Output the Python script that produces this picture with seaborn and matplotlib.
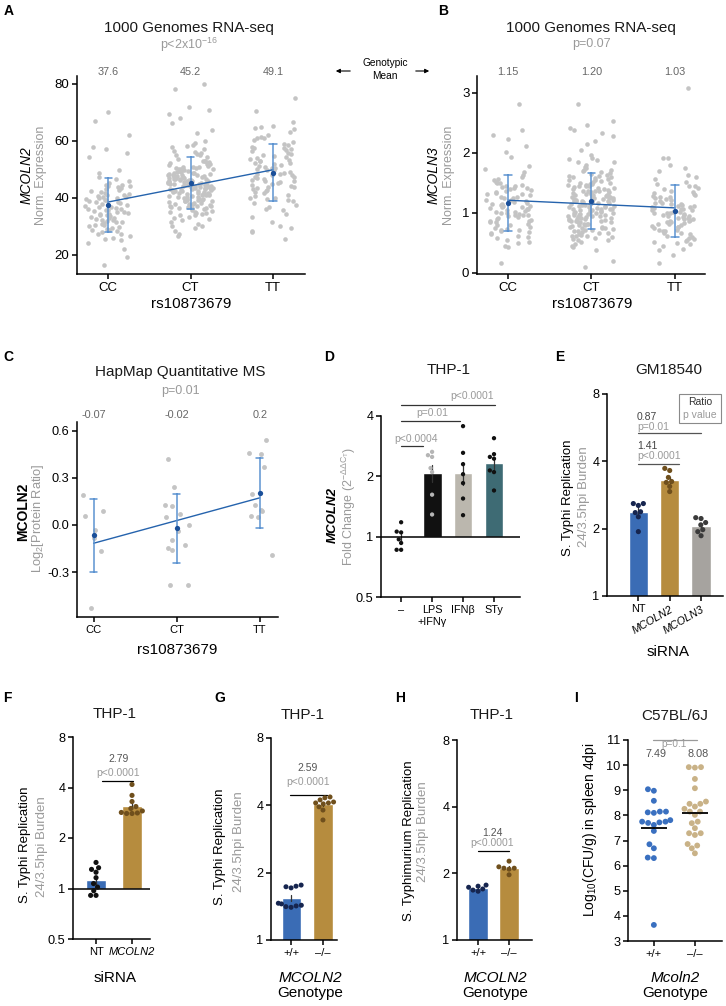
import matplotlib.pyplot as plt
import numpy as np
import pandas as pd
import seaborn as sns
from matplotlib.patches import FancyArrowPatch, Rectangle
from matplotlib.ticker import NullLocator

# ---------------------------------------------------------------- data
GENOTYPES = ["CC", "CT", "TT"]

# A: MCOLN2 norm. expression (1000 Genomes RNA-seq)
A_CC = [54.4, 36.2, 41.7, 29.8, 44.1, 33.5, 70.2, 38.9, 27.4, 44.3, 35.1, 31.6, 40.2, 24.3, 48.6,
        37.4, 30.5, 43.2, 34.8, 39.6, 26.1, 45.8, 32.7, 36.9, 19.1, 42.4, 28.6, 38.1, 46.5, 33.9,
        67.0, 35.7, 30.9, 41.1, 37.8, 22.2, 43.6, 34.2, 29.3, 40.7, 57.1, 32.1, 36.5, 27.9, 44.7,
        38.4, 31.2, 55.9, 35.4, 42.9, 25.6, 39.1, 33.1, 45.4, 16.5, 37.0, 30.2, 43.8, 34.5, 40.0,
        62.2, 28.3, 36.0, 47.4, 32.4, 38.7, 26.8, 41.4, 35.0, 29.1, 41.2, 33.3, 39.9, 31.9, 49.7,
        37.6, 28.9, 42.0, 34.0, 36.7, 58.0, 30.6, 39.3, 25.2, 44.4, 32.9, 35.8, 27.2, 40.5, 31.4]
A_CT = [80.0, 44.3, 38.6, 51.2, 46.8, 33.4, 42.1, 55.7, 47.5, 40.3, 36.9, 49.8, 43.6, 58.2, 29.4,
        45.1, 52.9, 39.7, 48.2, 41.5, 71.9, 37.2, 45.9, 50.4, 34.8, 43.0, 47.9, 53.6, 39.1, 44.8,
        26.7, 48.7, 42.4, 36.1, 51.8, 45.5, 40.8, 57.3, 35.5, 46.2, 78.1, 41.9, 32.6, 49.1, 44.6,
        38.3, 54.4, 46.5, 30.8, 43.3, 50.9, 37.8, 47.1, 42.7, 60.1, 35.2, 45.7, 40.0, 52.3, 48.9,
        69.5, 36.4, 44.0, 39.4, 56.5, 47.2, 33.9, 42.9, 50.1, 27.2, 45.3, 41.2, 48.4, 38.0, 53.1,
        43.9, 34.6, 46.0, 40.6, 49.4, 68.1, 42.2, 37.5, 51.5, 44.9, 31.7, 46.9, 39.8, 55.0, 43.1,
        35.9, 48.0, 41.0, 28.5, 50.6, 45.6, 38.8, 47.7, 43.8, 36.6, 66.3, 44.5, 40.5, 49.6, 34.1,
        46.4, 52.0, 38.9, 42.6, 59.4, 30.1, 45.0, 47.4, 37.0, 43.5, 50.2, 39.5, 54.9, 41.7, 46.6,
        64.0, 39.0, 45.8, 35.0, 48.5, 43.4, 53.0, 37.3, 41.4, 47.0, 32.2, 50.0, 44.2, 57.9, 40.9,
        46.3, 36.7, 42.8, 51.0, 44.7, 62.7, 41.6, 47.6, 33.0, 45.4, 38.2, 49.2, 43.7, 55.5, 36.3,
        44.4, 40.4, 52.6, 46.7, 30.0, 48.1, 42.3, 39.2, 58.7, 45.2, 70.8, 43.2, 37.9, 50.7, 46.1,
        34.4, 48.6, 41.3, 56.0, 44.1]
A_TT = [75.0, 52.3, 44.6, 58.8, 39.5, 49.7, 63.2, 46.1, 55.4, 30.2, 50.8, 43.0, 61.5, 47.4, 36.9,
        53.9, 41.7, 57.1, 48.3, 34.5, 70.5, 45.8, 51.9, 28.1, 59.7, 42.3, 48.8, 54.6, 38.2, 64.6,
        46.9, 50.1, 33.2, 56.3, 44.0, 60.4, 49.2, 40.6, 52.8, 25.5, 66.5, 47.9, 53.5, 37.6, 58.0,
        43.7, 50.5, 29.6, 55.8, 45.2, 62.1, 41.1, 49.0, 52.2, 35.8, 57.6, 46.6, 44.9, 65.4, 39.1,
        65.0, 48.5, 42.8, 56.9, 51.3, 31.4, 47.2, 53.1, 38.8, 60.9, 44.3, 49.9, 28.3, 54.2, 46.3,
        58.5, 40.1, 51.6, 43.5, 36.2, 64.2, 50.4, 45.5, 57.4, 42.0, 53.4, 48.0, 61.0, 39.9, 55.1]
A_MEANS = ["37.6", "45.2", "49.1"]

# B: MCOLN3 norm. expression
B_CC = [2.82, 1.21, 0.94, 1.47, 0.71, 1.08, 1.63, 0.85, 1.32, 0.43, 1.15, 0.98, 2.38, 1.26, 0.77,
        1.52, 1.02, 0.66, 1.39, 1.11, 0.17, 1.36, 0.90, 1.73, 1.05, 0.58, 1.44, 0.82, 2.30, 1.18,
        0.96, 1.57, 0.73, 1.29, 1.00, 0.49, 1.68, 1.13, 0.88, 1.41, 2.23, 0.93, 1.24, 0.62, 1.49,
        1.07, 0.80, 1.34, 0.45, 1.19, 1.60, 0.99, 0.70, 1.43, 1.12, 0.86, 2.12, 1.03, 0.75, 1.27,
        1.93, 1.10, 0.68, 1.38, 0.91, 1.54, 0.55, 1.22, 1.01, 0.84, 1.45, 0.60, 1.16, 1.78, 0.96,
        0.52, 1.31, 1.06, 0.79, 1.50, 2.01, 0.87, 1.25, 0.72, 1.09, 1.42, 0.97, 0.64, 1.33, 1.14]
B_CT = [2.82, 1.24, 0.93, 1.58, 1.07, 0.66, 1.39, 1.85, 0.81, 1.16, 1.47, 0.98, 1.72, 0.55, 1.30,
        1.03, 2.14, 0.87, 1.21, 1.52, 0.10, 1.35, 1.12, 0.74, 1.63, 1.00, 1.91, 0.89, 1.27, 2.47,
        0.62, 1.44, 1.09, 0.95, 1.68, 0.78, 1.19, 1.55, 0.43, 1.33, 2.53, 1.06, 0.84, 1.49, 1.22,
        0.58, 1.77, 1.14, 0.91, 1.37, 2.33, 0.71, 1.28, 1.60, 0.99, 1.84, 0.48, 1.17, 1.41, 0.82,
        0.20, 1.31, 1.05, 1.66, 0.88, 1.25, 0.69, 1.45, 1.97, 1.01, 0.76, 1.36, 1.13, 2.28, 0.92,
        1.54, 0.60, 1.20, 1.74, 0.97, 0.38, 1.18, 0.94, 1.42, 0.73, 1.29, 1.08, 1.62, 0.85, 1.34,
        2.20, 0.65, 1.11, 1.48, 0.96, 1.89, 0.79, 1.23, 0.52, 1.38, 1.02, 0.67, 1.50, 1.15, 0.86,
        1.71, 1.26, 0.45, 1.40, 0.90, 2.38, 1.07, 0.75, 1.32, 1.59, 0.98, 1.19, 0.63, 1.46, 1.10,
        0.81, 1.27, 1.04, 1.79, 0.57, 1.36, 0.93, 1.21, 1.65, 0.70, 1.13, 1.43, 0.88, 2.05, 1.00,
        0.62, 1.30, 1.53, 0.77, 1.16, 1.23, 0.97, 1.57, 0.68, 1.09, 1.88, 0.84, 1.34, 1.06, 0.54,
        1.44, 1.18, 0.90, 1.69, 0.74, 1.25, 1.01, 2.41, 0.86, 1.37, 1.12, 0.80, 1.48, 0.95, 1.29,
        0.61, 1.61, 1.04, 0.72, 1.19]
B_TT = [3.08, 0.98, 1.24, 0.71, 1.45, 0.56, 1.10, 0.87, 1.33, 0.40, 1.02, 1.60, 0.79, 1.17, 0.93,
        1.91, 0.64, 1.28, 0.85, 1.06, 0.17, 1.13, 0.90, 1.52, 0.60, 1.21, 0.82, 1.39, 0.99, 0.52,
        1.75, 1.08, 0.74, 1.30, 0.95, 0.45, 1.92, 0.88, 1.15, 0.67, 0.30, 1.04, 0.78, 1.42, 0.92,
        1.19, 0.58, 1.56, 0.84, 1.11, 0.69, 1.35, 0.97, 0.38, 1.70, 1.00, 0.76, 1.26, 0.50, 1.09,
        0.89, 1.48, 0.62, 1.14, 0.81, 1.37, 1.01, 0.55, 1.23, 0.94, 1.80, 0.72, 1.07, 0.86, 1.31,
        0.48, 1.16, 0.96, 1.63, 0.77, 1.05, 0.66, 1.27, 0.91, 0.53, 1.44, 0.83, 1.12, 0.70, 0.99]
B_MEANS = ["1.15", "1.20", "1.03"]

# C: MCOLN2 protein ratio (HapMap quantitative MS)
C_CC = [0.19, 0.09, 0.06, -0.03, -0.08, -0.165, -0.53]
C_CT = [0.42, 0.24, 0.13, 0.12, 0.07, 0.05, 0.0, -0.04, -0.095, -0.13, -0.15, -0.16, -0.38, -0.38]
C_TT = [0.54, 0.46, 0.45, 0.37, 0.20, 0.13, 0.095, 0.09, 0.06, 0.05, -0.19]
C_MEANS = ["-0.07", "-0.02", "0.2"]

# D: THP-1 MCOLN2 fold change
D_GROUPS = ["–", "LPS", "IFNβ", "STy"]
D_TICKLABELS = ["–", "LPS\n+IFNγ", "IFNβ", "STy"]
D_NEG = [1.18, 1.06, 1.05, 0.97, 0.93, 0.86, 0.86]
D_LPS = [2.65, 2.55, 2.50, 2.20, 2.10, 1.62, 1.29]
D_IFNB = [3.56, 2.62, 2.30, 2.05, 1.85, 1.55, 1.28]
D_STY = [3.10, 2.58, 2.50, 2.45, 2.14, 2.10, 1.70]

# E: GM18540 siRNA
E_GROUPS = ["NT", "MCOLN2", "MCOLN3"]
E_NT = [2.59, 2.59, 2.54, 2.38, 2.36, 2.26, 1.94]
E_MCOLN2 = [3.72, 3.64, 3.39, 3.25, 3.22, 3.09, 2.93]
E_MCOLN3 = [2.24, 2.22, 2.13, 2.08, 1.98, 1.94, 1.86]

# F: THP-1 siRNA
F_GROUPS = ["NT", "MCOLN2"]
F_NT = [1.43, 1.33, 1.30, 1.25, 1.16, 1.07, 1.02, 0.97, 0.91, 0.91]
F_MCOLN2 = [4.17, 3.59, 3.30, 3.08, 3.00, 2.90, 2.84, 2.82, 2.80, 2.80]

# G-I: knockout genotypes
KO_GROUPS = ["+/+", "–/–"]
G_WT = [1.76, 1.74, 1.73, 1.71, 1.46, 1.45, 1.43, 1.42, 1.41, 1.40]
G_KO = [4.36, 4.32, 4.23, 4.14, 4.10, 4.10, 4.06, 3.94, 3.81, 3.44]
H_WT = [1.77, 1.75, 1.73, 1.70, 1.68, 1.66]
H_KO = [2.27, 2.14, 2.11, 2.11, 2.09, 1.97]
I_WT = [8.98, 9.04, 8.58, 8.15, 8.15, 8.12, 8.10, 7.75, 7.72, 7.81, 7.75, 7.70, 7.62, 7.38,
        6.85, 6.69, 6.32, 6.30, 3.64]
I_KO = [9.92, 9.92, 9.90, 9.45, 9.08, 8.55, 8.46, 8.46, 8.35, 8.26, 8.15, 8.15, 8.02, 7.75,
        7.69, 7.49, 7.29, 7.29, 7.22, 6.86, 6.80, 6.69, 6.49]
I_MEANS = ["7.49", "8.08"]

# ---------------------------------------------------------------- style
DOT_GREY = "#c4c4c4"
LINE_BLUE = "#2563ad"
ERR_BLUE = "#5c93d1"
MEAN_BLUE = "#1a4f99"
BLUE, GOLD, GREY = "#3a6cb5", "#b68c3e", "#a6a39f"
NAVY, BROWN, DARK = "#16254f", "#6f4f1c", "#3a3a3a"
GREY_TXT = "#9a9a9a"

sns.set_theme(style="ticks")
plt.rcParams.update(
    {
        "font.family": ["Liberation Sans", "DejaVu Sans"],
        "mathtext.default": "regular",
        "axes.unicode_minus": False,
        "axes.edgecolor": "black",
        "axes.linewidth": 1.1,
        "xtick.color": "black",
        "ytick.color": "black",
        "xtick.major.width": 1.1,
        "ytick.major.width": 1.1,
        "xtick.major.size": 3.5,
        "ytick.major.size": 3.5,
        "xtick.major.pad": 2.5,
        "ytick.major.pad": 2,
        "text.color": "black",
    }
)
np.random.seed(7)  # jitter of the strip plots

W, H = 726, 1006
fig = plt.figure(figsize=(W / 100, H / 100), dpi=100)


def add_box(left, top, right, bottom):
    return fig.add_axes([left / W, 1 - bottom / H, (right - left) / W, (bottom - top) / H])


def ftext(x, y, s, **kw):
    kw.setdefault("ha", "center")
    kw.setdefault("va", "center")
    return fig.text(x / W, 1 - y / H, s, **kw)


def long_df(groups, values):
    return pd.DataFrame(
        {
            "group": np.repeat(groups, [len(v) for v in values]),
            "value": np.concatenate([np.asarray(v, dtype=float) for v in values]),
        }
    )


def finish_axis(ax, ytick_size=9.2, xtick_size=8):
    sns.despine(ax=ax)
    ax.set_xlabel("")
    ax.set_ylabel("")
    ax.tick_params(axis="y", labelsize=ytick_size)
    ax.tick_params(axis="x", labelsize=xtick_size)


def genotype_panel(ax, values, jitter, size, xlim, ylim, yticks, ylabels, means, mean_y):
    df = long_df(GENOTYPES, values)
    df["code"] = df["group"].map({g: i for i, g in enumerate(GENOTYPES)})
    sns.stripplot(data=df, x="group", y="value", order=GENOTYPES, color=DOT_GREY,
                  size=size, jitter=jitter, linewidth=0, ax=ax, zorder=1)
    sns.regplot(data=df, x="code", y="value", scatter=False, ci=None, ax=ax,
                line_kws={"color": LINE_BLUE, "linewidth": 1.0, "zorder": 3})
    sns.pointplot(data=df, x="group", y="value", order=GENOTYPES, errorbar="sd",
                  color=ERR_BLUE, linestyle="none", marker="", markersize=0,
                  markeredgewidth=0, capsize=0.09,
                  err_kws={"linewidth": 1.1, "zorder": 4}, ax=ax)
    sns.pointplot(data=df, x="group", y="value", order=GENOTYPES, errorbar=None,
                  color=MEAN_BLUE, linestyle="none", marker="o", markersize=3.8,
                  markeredgewidth=0, zorder=5, ax=ax)
    ax.set_xlim(*xlim)
    ax.set_ylim(*ylim)
    ax.set_yticks(yticks, labels=ylabels)
    for i, m in enumerate(means):
        ax.text(i, mean_y, m, transform=ax.get_xaxis_transform(), ha="center",
                va="center", fontsize=7.8, color="#666666")


def bar_panel(ax, groups, values, bar_colors, dot_colors, xlim, ylim, yticks,
              width=0.62, dot_size=3.6, base_one=False):
    ax.set_yscale("log", base=2)
    ax.set_xlim(*xlim)
    ax.set_ylim(*ylim)
    df = long_df(groups, values)
    sns.barplot(data=df, x="group", y="value", hue="group", order=groups, hue_order=groups,
                palette=dict(zip(groups, bar_colors)), saturation=1, width=width,
                errorbar="se", capsize=0, err_kws={"color": "#333333", "linewidth": 0.9},
                legend=False, ax=ax)
    if base_one:
        # bars start at the fold-change baseline of 1
        for bar in ax.patches:
            top = bar.get_height()
            bar.set_y(1)
            bar.set_height(top - 1)
            if top < 1:
                bar.set_visible(False)
    sns.swarmplot(data=df, x="group", y="value", hue="group", order=groups, hue_order=groups,
                  palette=dict(zip(groups, dot_colors)), size=dot_size, legend=False,
                  ax=ax, zorder=3)
    ax.set_xlim(*xlim)
    ax.set_ylim(*ylim)
    ax.set_yticks(yticks, labels=[f"{t:g}" for t in yticks])
    ax.yaxis.set_minor_locator(NullLocator())


def sig(ax, x0, x1, y, color="#333333"):
    ax.plot([x0, x1], [y, y], color=color, lw=0.9, clip_on=False)


def atext(ax, x, y, s, color=GREY_TXT, size=7.5, ha="center"):
    ax.text(x, y, s, ha=ha, va="center", fontsize=size, color=color, clip_on=False)


# ---------------------------------------------------------------- A
ax = add_box(77, 76, 305, 274)
genotype_panel(ax, [A_CC, A_CT, A_TT], 0.28, 3.3, (-0.38, 2.39), (13.3, 82.8),
               [20, 40, 60, 80], ["20", "40", "60", "80"], A_MEANS, 1.02)
finish_axis(ax, 9.5, 9.5)
ftext(9, 11, "A", fontsize=10, fontweight="bold")
ftext(189, 28, "1000 Genomes RNA-seq", fontsize=11, color="#1a1a1a")
ftext(189, 45, "p<2x10$^{-16}$", fontsize=9, color=GREY_TXT)
ftext(27, 175, "MCOLN2", fontsize=10, style="italic", rotation=90)
ftext(41, 175, "Norm. Expression", fontsize=9, color=GREY_TXT, rotation=90)
ftext(191, 304, "rs10873679", fontsize=11)

# ---------------------------------------------------------------- B
ax = add_box(477, 76, 705, 274)
genotype_panel(ax, [B_CC, B_CT, B_TT], 0.28, 3.3, (-0.37, 2.36), (-0.02, 3.28),
               [0, 1, 2, 3], ["0", "1", "2", "3"], B_MEANS, 1.02)
finish_axis(ax, 9.5, 9.5)
ftext(443, 11, "B", fontsize=10, fontweight="bold")
ftext(591, 28, "1000 Genomes RNA-seq", fontsize=11, color="#1a1a1a")
ftext(591, 44, "p=0.07", fontsize=9, color=GREY_TXT)
ftext(434, 175, "MCOLN3", fontsize=10, style="italic", rotation=90)
ftext(449, 175, "Norm. Expression", fontsize=9, color=GREY_TXT, rotation=90)
ftext(592, 304, "rs10873679", fontsize=11)

# genotypic mean callout between A and B
ftext(385, 63, "Genotypic", fontsize=7.3)
ftext(385, 76, "Mean", fontsize=7.3)
for xa, xb in [(353, 333), (413, 432)]:
    fig.add_artist(FancyArrowPatch((xa / W, 1 - 71 / H), (xb / W, 1 - 71 / H),
                                   transform=fig.transFigure, arrowstyle="-|>",
                                   mutation_scale=6, lw=0.8, color="black"))

# ---------------------------------------------------------------- C
ax = add_box(77, 422, 278, 617)
genotype_panel(ax, [C_CC, C_CT, C_TT], 0.15, 3.5, (-0.2, 2.22), (-0.587, 0.657),
               [-0.3, 0.0, 0.3, 0.6], ["-0.3", "0.0", "0.3", "0.6"], C_MEANS, 1.036)
finish_axis(ax, 9.2, 8)
ftext(8, 357, "C", fontsize=10, fontweight="bold")
ftext(180, 372, "HapMap Quantitative MS", fontsize=11, color="#1a1a1a")
ftext(180, 391, "p=0.01", fontsize=9, color=GREY_TXT)
ftext(23, 512, "MCOLN2", fontsize=10, fontweight="bold", rotation=90)
ftext(38, 518, "Log$_2$[Protein Ratio]", fontsize=9.3, color=GREY_TXT, rotation=90)
ftext(177, 650, "rs10873679", fontsize=11)

# ---------------------------------------------------------------- D
ax = add_box(381, 416, 520, 597)
bar_panel(ax, D_GROUPS, [D_NEG, D_LPS, D_IFNB, D_STY], ["#ffffff", "#111111", "#bbb7ae", "#3e6b74"],
          ["#111111", "#b5b5b5", "#111111", "#111111"], (-0.65, 3.84), (0.5, 4),
          [0.5, 1, 2, 4], width=0.61, dot_size=3.1, base_one=True)
ax.axhline(1, color="black", lw=1.1, zorder=2)
ax.set_xticks(range(len(D_GROUPS)), labels=D_TICKLABELS)
finish_axis(ax, 9.2, 7.8)
sig(ax, 0, 0.71, 2.83)
atext(ax, 0.48, 3.07, "p<0.0004")
sig(ax, 0, 1.9, 3.77)
atext(ax, 1.0, 4.14, "p=0.01")
sig(ax, 0, 3.03, 4.54)
atext(ax, 2.3, 5.04, "p<0.0001")
ftext(329, 357, "D", fontsize=10, fontweight="bold")
ftext(449, 370, "THP-1", fontsize=11, color="#1a1a1a")
ftext(333, 515, "MCOLN2", fontsize=9.5, style="italic", fontweight="bold", rotation=90)
ftext(349, 506, "Fold Change (2$^{-ΔΔC_T}$)", fontsize=9, color=GREY_TXT, rotation=90)

# ---------------------------------------------------------------- E
ax = add_box(607, 394, 723, 596)
bar_panel(ax, E_GROUPS, [E_NT, E_MCOLN2, E_MCOLN3], [BLUE, GOLD, GREY], [NAVY, BROWN, DARK],
          (-1.0, 2.7), (1, 8), [1, 2, 4, 8], width=0.61, dot_size=3.7)
ax.set_xticks(range(len(E_GROUPS)), labels=E_GROUPS)
for lab in ax.get_xticklabels()[1:]:
    lab.set_rotation(30)
    lab.set_ha("right")
    lab.set_rotation_mode("anchor")
    lab.set_style("italic")
finish_axis(ax, 9.2, 7.8)
sig(ax, 0, 1.29, 3.88, "#555555")
atext(ax, -0.04, 4.67, "1.41", "#444444", ha="left")
atext(ax, -0.04, 4.21, "p<0.0001", ha="left")
sig(ax, 0, 2.0, 5.34, "#555555")
atext(ax, -0.04, 6.30, "0.87", "#444444", ha="left")
atext(ax, -0.04, 5.69, "p=0.01", ha="left")
fig.add_artist(Rectangle((679 / W, 1 - 423 / H), 42 / W, 29 / H, transform=fig.transFigure,
                         fill=False, edgecolor="#8a8a8a", linewidth=0.8))
ftext(700, 402, "Ratio", fontsize=7.5, color="#333333")
ftext(700, 415, "p value", fontsize=7.5, color=GREY_TXT)
ftext(560, 357, "E", fontsize=10, fontweight="bold")
ftext(669, 370, "GM18540", fontsize=11, color="#1a1a1a")
ftext(568, 498, "S. Typhi Replication", fontsize=9.5, rotation=90)
ftext(584, 497, "24/3.5hpi Burden", fontsize=9.5, color=GREY_TXT, rotation=90)
ftext(668, 652, "siRNA", fontsize=11)

# ---------------------------------------------------------------- F
ax = add_box(73, 737, 150, 939)
bar_panel(ax, F_GROUPS, [F_NT, F_MCOLN2], [BLUE, GOLD], ["#111111", BROWN],
          (-0.64, 1.5), (0.5, 8), [0.5, 1, 2, 4, 8], width=0.56, dot_size=3.7, base_one=True)
ax.axhline(1, color="black", lw=1.1, zorder=2)
ax.set_xticks(range(len(F_GROUPS)), labels=F_GROUPS)
ax.get_xticklabels()[1].set_style("italic")
finish_axis(ax, 9.2, 8)
sig(ax, 0.17, 1.03, 4.40, "black")
atext(ax, 0.62, 5.95, "2.79", "#555555")
atext(ax, 0.62, 4.85, "p<0.0001")
ftext(7, 698, "F", fontsize=10, fontweight="bold")
ftext(115, 714, "THP-1", fontsize=11, color="#1a1a1a")
ftext(25, 845, "S. Typhi Replication", fontsize=9.5, rotation=90)
ftext(42, 847, "24/3.5hpi Burden", fontsize=9.5, color=GREY_TXT, rotation=90)
ftext(115, 978, "siRNA", fontsize=11)

# ---------------------------------------------------------------- G
ax = add_box(271, 738, 337, 940)
bar_panel(ax, KO_GROUPS, [G_WT, G_KO], [BLUE, GOLD], [NAVY, BROWN],
          (-0.63, 1.44), (1, 8), [1, 2, 4, 8], width=0.6, dot_size=3.6)
ax.set_xticks(range(2), labels=KO_GROUPS)
finish_axis(ax, 9.2, 8)
sig(ax, -0.03, 1.12, 4.45, "black")
atext(ax, 0.53, 5.89, "2.59", "#555555")
atext(ax, 0.53, 5.09, "p<0.0001")
ftext(220, 698, "G", fontsize=10, fontweight="bold")
ftext(303, 715, "THP-1", fontsize=11, color="#1a1a1a")
ftext(220, 847, "S. Typhi Replication", fontsize=9.5, rotation=90)
ftext(239, 842, "24/3.5hpi Burden", fontsize=9.5, color=GREY_TXT, rotation=90)
ftext(310, 978, "MCOLN2", fontsize=11, style="italic")
ftext(310, 993, "Genotype", fontsize=11)

# ---------------------------------------------------------------- H
ax = add_box(457, 740, 532, 940)
bar_panel(ax, KO_GROUPS, [H_WT, H_KO], [BLUE, GOLD], [NAVY, BROWN],
          (-0.68, 1.74), (1, 8), [1, 2, 4, 8], width=0.65, dot_size=3.6)
ax.set_xticks(range(2), labels=KO_GROUPS)
finish_axis(ax, 9.2, 8)
sig(ax, 0, 1, 2.52, "black")
atext(ax, 0.45, 3.04, "1.24", "#555555")
atext(ax, 0.45, 2.74, "p<0.0001")
ftext(400, 698, "H", fontsize=10, fontweight="bold")
ftext(492, 715, "THP-1", fontsize=11, color="#1a1a1a")
ftext(409, 841, "S. Typhimurium Replication", fontsize=9.5, rotation=90)
ftext(423, 832, "24/3.5hpi Burden", fontsize=9.5, color=GREY_TXT, rotation=90)
ftext(495, 978, "MCOLN2", fontsize=11, style="italic")
ftext(495, 993, "Genotype", fontsize=11)

# ---------------------------------------------------------------- I
ax = add_box(628, 740, 722, 941)
ax.set_xlim(-0.63, 1.66)
ax.set_ylim(3, 11)
df_i = long_df(KO_GROUPS, [I_WT, I_KO])
sns.swarmplot(data=df_i, x="group", y="value", hue="group", order=KO_GROUPS,
              hue_order=KO_GROUPS, palette={"+/+": "#3a70c0", "–/–": "#c9b287"},
              size=4.2, legend=False, ax=ax)
for i, vals in enumerate([I_WT, I_KO]):
    ax.hlines(np.mean(vals), i - 0.32, i + 0.32, color="black", lw=1.3, zorder=4)
ax.set_xlim(-0.63, 1.66)
ax.set_ylim(3, 11)
ax.set_yticks(range(3, 12))
ax.set_xticks(range(2), labels=KO_GROUPS)
finish_axis(ax, 9.2, 8)
sig(ax, -0.03, 1.05, 11.0, "#999999")
atext(ax, 0.49, 10.84, "p=0.1", size=7.2)
atext(ax, 0.06, 10.45, I_MEANS[0], "#555555", 7.8)
atext(ax, 1.07, 10.45, I_MEANS[1], "#555555", 7.8)
ftext(576, 698, "I", fontsize=10, fontweight="bold")
ftext(675, 716, "C57BL/6J", fontsize=11, color="#1a1a1a")
ftext(590, 830, "Log$_{10}$(CFU/g) in spleen 4dpi", fontsize=10, rotation=90)
ftext(675, 978, "Mcoln2", fontsize=11, style="italic")
ftext(675, 993, "Genotype", fontsize=11)

fig.savefig("out.png", dpi=100)
